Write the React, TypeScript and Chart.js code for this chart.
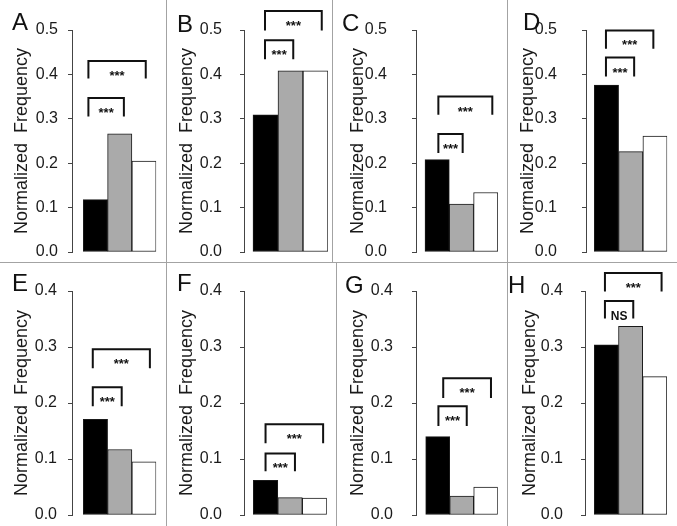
import React, { useEffect, useRef } from 'react';
import { Chart, registerables } from 'chart.js';

Chart.register(...registerables);

const FONT = '"Liberation Sans", Arial, sans-serif';

// three groups (black, gray, white bars)
const groupIndex = [0, 1, 2];
const groupColors = ['#000000', '#aaaaaa', '#ffffff'];

const valuesA = [0.118, 0.266, 0.205];
const valuesB = [0.309, 0.408, 0.408];
const valuesC = [0.208, 0.108, 0.134];
const valuesD = [0.376, 0.226, 0.261];
const valuesE = [0.171, 0.117, 0.095];
const valuesF = [0.062, 0.031, 0.030];
const valuesG = [0.140, 0.034, 0.050];
const valuesH = [0.304, 0.337, 0.247];

const tickLabelsTop = ['0.0', '0.1', '0.2', '0.3', '0.4', '0.5'];
const tickLabelsBottom = ['0.0', '0.1', '0.2', '0.3', '0.4'];

type Bracket = { from: number; to: number; top: number; leg: number; label: string };

const bracketsA: Bracket[] = [
  { from: -0.29, to: 2.07, top: 0.43, leg: 0.391, label: '***' },
  { from: -0.29, to: 1.17, top: 0.347, leg: 0.305, label: '***' },
];
const bracketsB: Bracket[] = [
  { from: -0.02, to: 2.25, top: 0.543, leg: 0.499, label: '***' },
  { from: -0.02, to: 1.11, top: 0.477, leg: 0.434, label: '***' },
];
const bracketsC: Bracket[] = [
  { from: 0.05, to: 2.27, top: 0.35, leg: 0.309, label: '***' },
  { from: 0.05, to: 1.05, top: 0.266, leg: 0.223, label: '***' },
];
const bracketsD: Bracket[] = [
  { from: -0.02, to: 1.93, top: 0.499, leg: 0.458, label: '***' },
  { from: -0.02, to: 1.14, top: 0.438, leg: 0.395, label: '***' },
];
const bracketsE: Bracket[] = [
  { from: -0.11, to: 2.24, top: 0.296, leg: 0.262, label: '***' },
  { from: -0.11, to: 1.08, top: 0.228, leg: 0.194, label: '***' },
];
const bracketsF: Bracket[] = [
  { from: 0.0, to: 2.35, top: 0.162, leg: 0.128, label: '***' },
  { from: 0.0, to: 1.2, top: 0.11, leg: 0.078, label: '***' },
];
const bracketsG: Bracket[] = [
  { from: 0.23, to: 2.22, top: 0.244, leg: 0.209, label: '***' },
  { from: 0.03, to: 1.21, top: 0.194, leg: 0.159, label: '***' },
];
const bracketsH: Bracket[] = [
  { from: -0.06, to: 2.28, top: 0.432, leg: 0.399, label: '***' },
  { from: -0.06, to: 1.11, top: 0.382, leg: 0.351, label: 'NS' },
];

type Panel = {
  letter: string;
  values: number[];
  brackets: Bracket[];
  yMax: number;
  tickLabels: string[];
  left: number;
  top: number;
  width: number;
  height: number;
  axisX: number;
  barLeft: number;
  barW: number;
  titleX: number;
  labelRight: number;
  letterX: number;
  letterY: number;
  areaTop: number;
  areaBottom: number;
};

const panels: Panel[] = [
  { letter: 'A', values: valuesA, brackets: bracketsA, yMax: 0.5, tickLabels: tickLabelsTop, left: 0, top: 0, width: 166, height: 262, axisX: 72, barLeft: 83.3, barW: 24.3, titleX: 22, labelRight: 58, letterX: 12, letterY: 30, areaTop: 30, areaBottom: 252 },
  { letter: 'B', values: valuesB, brackets: bracketsB, yMax: 0.5, tickLabels: tickLabelsTop, left: 167, top: 0, width: 165, height: 262, axisX: 244, barLeft: 253, barW: 25, titleX: 187, labelRight: 222, letterX: 177, letterY: 32, areaTop: 30, areaBottom: 252 },
  { letter: 'C', values: valuesC, brackets: bracketsC, yMax: 0.5, tickLabels: tickLabelsTop, left: 333, top: 0, width: 174, height: 262, axisX: 416, barLeft: 425, barW: 24.3, titleX: 358, labelRight: 387, letterX: 342, letterY: 31, areaTop: 30, areaBottom: 252 },
  { letter: 'D', values: valuesD, brackets: bracketsD, yMax: 0.5, tickLabels: tickLabelsTop, left: 508, top: 0, width: 169, height: 262, axisX: 586, barLeft: 594.3, barW: 24.3, titleX: 528, labelRight: 557, letterX: 523, letterY: 30, areaTop: 30, areaBottom: 252 },
  { letter: 'E', values: valuesE, brackets: bracketsE, yMax: 0.4, tickLabels: tickLabelsBottom, left: 0, top: 263, width: 166, height: 263, axisX: 72, barLeft: 83.3, barW: 24.3, titleX: 22, labelRight: 57, letterX: 12, letterY: 291, areaTop: 291, areaBottom: 515 },
  { letter: 'F', values: valuesF, brackets: bracketsF, yMax: 0.4, tickLabels: tickLabelsBottom, left: 167, top: 263, width: 169, height: 263, axisX: 244, barLeft: 253.3, barW: 24.5, titleX: 187, labelRight: 222, letterX: 177, letterY: 291, areaTop: 291, areaBottom: 515 },
  { letter: 'G', values: valuesG, brackets: bracketsG, yMax: 0.4, tickLabels: tickLabelsBottom, left: 337, top: 263, width: 170, height: 263, axisX: 416, barLeft: 425.7, barW: 24, titleX: 358, labelRight: 393, letterX: 345, letterY: 293, areaTop: 291, areaBottom: 515 },
  { letter: 'H', values: valuesH, brackets: bracketsH, yMax: 0.4, tickLabels: tickLabelsBottom, left: 508, top: 263, width: 169, height: 263, axisX: 585, barLeft: 594.3, barW: 24.2, titleX: 530, labelRight: 563, letterX: 508, letterY: 293, areaTop: 291, areaBottom: 515 },
];

const TITLE_SIZE = 18;
const TICK_LEN = 4;

function PanelChart({ p }: { p: Panel }) {
  const ref = useRef<HTMLCanvasElement | null>(null);
  useEffect(() => {
    const canvas = ref.current;
    if (!canvas) return;
    const yWidth = p.axisX - p.left;
    const xMin = -0.5 - (p.barLeft - p.axisX) / p.barW;
    const xMax = 2.5;
    const areaW = (xMax - xMin) * p.barW;
    const padRight = p.width - yWidth - areaW;
    const padTop = p.areaTop - p.top;
    const padBottom = p.top + p.height - p.areaBottom;
    const titlePad = p.titleX - p.left - (TITLE_SIZE * 1.2) / 2;
    const tickPad = p.axisX - TICK_LEN - p.labelRight;

    const bracketPlugin = {
      id: 'brackets',
      afterDraw(chart: any) {
        const ctx = chart.ctx;
        const xs = chart.scales.x;
        const ys = chart.scales.y;
        ctx.save();
        ctx.strokeStyle = '#111111';
        ctx.lineWidth = 2;
        ctx.lineCap = 'butt';
        ctx.lineJoin = 'miter';
        for (const b of p.brackets) {
          const x1 = xs.getPixelForValue(b.from);
          const x2 = xs.getPixelForValue(b.to);
          const yt = ys.getPixelForValue(b.top);
          const yl = ys.getPixelForValue(b.leg);
          ctx.beginPath();
          ctx.moveTo(x1, yl);
          ctx.lineTo(x1, yt);
          ctx.lineTo(x2, yt);
          ctx.lineTo(x2, yl);
          ctx.stroke();
          ctx.fillStyle = '#111111';
          ctx.textAlign = 'center';
          ctx.textBaseline = 'alphabetic';
          ctx.font = b.label === 'NS' ? `bold 12px ${FONT}` : `bold 13px ${FONT}`;
          ctx.fillText(b.label, (x1 + x2) / 2, yt + 19);
        }
        ctx.fillStyle = '#111111';
        ctx.textAlign = 'left';
        ctx.textBaseline = 'alphabetic';
        ctx.font = `24px ${FONT}`;
        ctx.fillText(p.letter, p.letterX - p.left, p.letterY - p.top);
        ctx.restore();
      },
    };

    const chart = new Chart(canvas, {
      type: 'bar',
      data: {
        datasets: [
          {
            data: groupIndex.map((x, i) => ({ x, y: p.values[i] })),
            backgroundColor: groupColors,
            borderColor: '#1a1a1a',
            borderWidth: 1,
            borderSkipped: false,
            barThickness: p.barW,
          } as any,
        ],
      },
      options: {
        animation: false,
        responsive: false,
        maintainAspectRatio: false,
        events: [],
        layout: { padding: { left: 0, right: padRight, top: padTop, bottom: padBottom } },
        plugins: { legend: { display: false }, tooltip: { enabled: false } },
        scales: {
          x: {
            type: 'linear',
            display: false,
            offset: false,
            grid: { offset: false },
            bounds: 'data',
            min: xMin,
            max: xMax,
          },
          y: {
            min: 0,
            max: p.yMax,
            afterFit: (s: any) => {
              s.width = yWidth;
              s.paddingTop = 0;
              s.paddingBottom = 0;
            },
            ticks: {
              stepSize: 0.1,
              padding: tickPad,
              color: '#1a1a1a',
              font: { family: FONT, size: 16 },
              callback: (_v: any, i: number) => p.tickLabels[i],
            },
            grid: {
              drawOnChartArea: false,
              drawTicks: true,
              tickLength: TICK_LEN,
              color: '#444444',
              lineWidth: 1,
            },
            border: { display: true, color: '#444444', width: 1 },
            title: {
              display: true,
              text: 'Normalized  Frequency',
              color: '#1a1a1a',
              font: { family: FONT, size: TITLE_SIZE },
              padding: { top: titlePad, bottom: 0 },
            },
          },
        },
      } as any,
      plugins: [bracketPlugin],
    });
    return () => chart.destroy();
  }, [p]);

  return (
    <canvas
      ref={ref}
      width={p.width}
      height={p.height}
      style={{ position: 'absolute', left: p.left, top: p.top, width: p.width, height: p.height }}
    />
  );
}

const SEP = '#a3a3a3';

export default function App() {
  return (
    <div style={{ position: 'absolute', left: 0, top: 0, width: 677, height: 526, background: '#ffffff', overflow: 'hidden' }}>
      {panels.map((p) => (
        <PanelChart key={p.letter} p={p} />
      ))}
      <div style={{ position: 'absolute', left: 0, top: 262, width: 677, height: 1, background: SEP }} />
      <div style={{ position: 'absolute', left: 166, top: 0, width: 1, height: 526, background: SEP }} />
      <div style={{ position: 'absolute', left: 332, top: 0, width: 1, height: 262, background: SEP }} />
      <div style={{ position: 'absolute', left: 336, top: 263, width: 1, height: 263, background: SEP }} />
      <div style={{ position: 'absolute', left: 507, top: 0, width: 1, height: 526, background: SEP }} />
    </div>
  );
}
